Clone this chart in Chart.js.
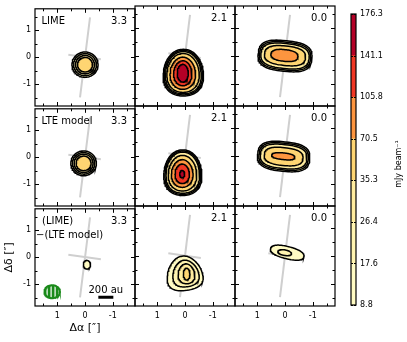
<!DOCTYPE html>
<html>
<head>
<meta charset="utf-8">
<script src="https://cdn.jsdelivr.net/npm/chart.js@4/dist/chart.umd.min.js"></script>
<style>
  body { margin: 0; background: #fff; width: 407px; height: 342px; position: relative; overflow: hidden; }
  canvas { position: absolute; }
</style>
</head>
<body>
<script>
// colour levels (mJy beam^-1) and the band colours between them
const levels = ['8.8', '17.6', '26.4', '35.3', '70.5', '105.8', '141.1', '176.3'];
const bandColors = ['#fffbc3', '#fff4b0', '#ffec9e', '#fed572', '#fd953f', '#f03623', '#b40026'];

const rowNames = [['LIME'], ['LTE model'], ['(LIME)', '\u2212(LTE model)']];
const velocities = ['3.3', '2.1', '0.0'];
const axisTicks = [-1, 0, 1];
const minorTicks = [-1.5, -1, -0.5, 0, 0.5, 1, 1.5];

// disk major / minor axis guide lines
const diskMajor = [{x: -0.18, y: 1.48}, {x: 0.18, y: -1.48}];
const diskMinor = [{x: 0.6, y: 0.1}, {x: -0.57, y: -0.07}];

// contours: [band, cx, cy, rx, ry, rotDeg, power, egg]
const lime33 = [
  [0, 0.0, -0.27, 0.47, 0.47, 0, 2, 0],
  [1, 0.0, -0.27, 0.41, 0.41, 0, 2, 0],
  [2, 0.0, -0.27, 0.34, 0.34, 0, 2, 0],
  [3, 0.0, -0.27, 0.27, 0.27, 0, 2, 0]
];
const lime21 = [
  [0, 0.06, -0.6, 0.72, 0.84, 0, 2.2, 0.12],
  [1, 0.06, -0.6, 0.68, 0.80, 0, 2.2, 0.12],
  [2, 0.06, -0.6, 0.64, 0.76, 0, 2.2, 0.12],
  [3, 0.07, -0.61, 0.58, 0.70, 0, 2.1, 0.1],
  [4, 0.08, -0.62, 0.46, 0.58, 0, 2, 0.08],
  [5, 0.08, -0.62, 0.33, 0.45, 0, 2, 0.05],
  [6, 0.08, -0.62, 0.20, 0.32, 0, 2, 0]
];
const lime00 = [
  [0, 0.0, 0.0, 0.97, 0.55, 6, 2.8, 0],
  [1, 0.0, 0.0, 0.92, 0.50, 6, 2.8, 0],
  [2, 0.0, 0.0, 0.87, 0.45, 6, 2.7, 0],
  [3, 0.0, 0.01, 0.74, 0.35, 6, 2.6, 0],
  [4, 0.02, 0.02, 0.49, 0.21, 6, 2.4, 0]
];
const lte33 = [
  [0, 0.05, -0.22, 0.46, 0.46, 0, 2, 0],
  [1, 0.05, -0.22, 0.40, 0.40, 0, 2, 0],
  [2, 0.05, -0.22, 0.34, 0.34, 0, 2, 0],
  [3, 0.05, -0.22, 0.27, 0.27, 0, 2, 0]
];
const lte21 = [
  [0, 0.08, -0.6, 0.68, 0.82, 0, 2.2, 0.12],
  [1, 0.08, -0.6, 0.64, 0.78, 0, 2.2, 0.12],
  [2, 0.08, -0.6, 0.60, 0.74, 0, 2.2, 0.12],
  [3, 0.09, -0.62, 0.51, 0.64, 0, 2.1, 0.1],
  [4, 0.1, -0.63, 0.39, 0.50, 0, 2, 0.08],
  [5, 0.1, -0.64, 0.26, 0.35, 0, 2, 0.05],
  [6, 0.1, -0.65, 0.09, 0.13, 0, 2, 0]
];
const lte00 = [
  [0, 0.05, -0.02, 0.94, 0.53, 6, 2.8, 0],
  [1, 0.05, -0.02, 0.89, 0.48, 6, 2.8, 0],
  [2, 0.05, -0.02, 0.84, 0.43, 6, 2.7, 0],
  [3, 0.05, -0.02, 0.70, 0.32, 6, 2.6, 0],
  [4, 0.06, -0.01, 0.42, 0.12, 6, 2.4, 0]
];
const diff33 = [
  [0, -0.07, -0.27, 0.13, 0.16, 0, 2, 0]
];
const diff21 = [
  [0, 0.02, -0.62, 0.62, 0.62, -8, 2.3, 0.3],
  [1, -0.02, -0.63, 0.46, 0.48, -8, 2.2, 0.25],
  [2, -0.05, -0.64, 0.30, 0.36, -5, 2, 0.15],
  [3, -0.06, -0.65, 0.12, 0.21, 0, 2, 0]
];
const diff00 = [
  [0, -0.08, 0.12, 0.62, 0.22, 14, 2.3, 0],
  [1, 0.01, 0.12, 0.25, 0.10, 10, 2, 0]
];

// beam [cx, cy, rx, ry] and 200 au scale bar
const beam = [1.18, -1.27, 0.28, 0.24];
const scaleBar = [{x: -0.48, y: -1.48}, {x: -1.02, y: -1.48}];

const panels = [[lime33, lime21, lime00], [lte33, lte21, lte00], [diff33, diff21, diff00]];

const colX = [35, 135, 235];
const rowY = [6, 106, 206];
const SIZE = 100;

Chart.defaults.font.family = '"DejaVu Sans", sans-serif';
Chart.defaults.color = '#000';

function outline(c) {
  const [band, cx, cy, rx, ry, rot, p, egg] = c;
  const a = rot * Math.PI / 180;
  const pts = [];
  for (let i = 0; i <= 96; i++) {
    const t = i / 96 * 2 * Math.PI;
    const co = Math.cos(t), si = Math.sin(t);
    const x = rx * Math.sign(co) * Math.pow(Math.abs(co), 2 / p) * (1 - egg * si);
    const y = ry * Math.sign(si) * Math.pow(Math.abs(si), 2 / p);
    pts.push({x: cx + x * Math.cos(a) - y * Math.sin(a), y: cy + x * Math.sin(a) + y * Math.cos(a)});
  }
  return pts;
}

// hatched pattern for the beam
const pc = document.createElement('canvas');
pc.width = 4; pc.height = 4;
const pctx = pc.getContext('2d');
pctx.fillStyle = '#1a8a1a'; pctx.fillRect(0, 0, 4, 4);
pctx.fillStyle = '#ffffff'; pctx.fillRect(2.5, 0, 1.2, 4);
const hatch = pctx.createPattern(pc, 'repeat');

const panelDeco = {
  id: 'panelDeco',
  afterDatasetsDraw(chart, args, opts) {
    const {ctx, chartArea: a, scales: {x, y}} = chart;
    ctx.save();
    ctx.strokeStyle = '#000';
    ctx.lineWidth = 1;
    ctx.beginPath();
    minorTicks.forEach(v => {
      const len = Number.isInteger(v) ? 4 : 2.5;
      const px = Math.round(x.getPixelForValue(v)) + 0.5;
      const py = Math.round(y.getPixelForValue(v)) + 0.5;
      ctx.moveTo(px, a.top); ctx.lineTo(px, a.top + len);
      ctx.moveTo(px, a.bottom); ctx.lineTo(px, a.bottom - len);
      ctx.moveTo(a.left, py); ctx.lineTo(a.left + len, py);
      ctx.moveTo(a.right, py); ctx.lineTo(a.right - len, py);
    });
    ctx.stroke();
    ctx.lineWidth = 1.2;
    ctx.strokeRect(a.left, a.top, a.width, a.height);

    ctx.font = '10px "DejaVu Sans"';
    ctx.fillStyle = '#000';
    ctx.textAlign = 'right';
    ctx.fillText(opts.vel, a.right - 8, a.top + 15);
    ctx.textAlign = 'left';
    if (opts.name) {
      if (opts.name.length === 1) {
        ctx.fillText(opts.name[0], a.left + 6.5, a.top + 15);
      } else {
        ctx.fillText(opts.name[0], a.left + 7, a.top + 15);
        ctx.fillText(opts.name[1], a.left + 1, a.top + 29);
      }
    }
    if (opts.bar) {
      ctx.textAlign = 'center';
      ctx.fillText('200 au', x.getPixelForValue(-0.75), y.getPixelForValue(scaleBar[0].y) - 4);
    }
    ctx.restore();
  }
};

function lineSet(data, color, width) {
  return {data, showLine: true, borderColor: color, borderWidth: width, pointRadius: 0, fill: false, tension: 0};
}

for (let r = 0; r < 3; r++) {
  for (let c = 0; c < 3; c++) {
    const cv = document.createElement('canvas');
    cv.width = 35 + SIZE + 6;
    cv.height = 6 + SIZE + 36;
    cv.style.left = (colX[c] - 35) + 'px';
    cv.style.top = (rowY[r] - 6) + 'px';
    document.body.appendChild(cv);

    const datasets = [];
    datasets.push(lineSet(diskMajor, '#cfcfcf', 2));
    datasets.push(lineSet(diskMinor, '#cfcfcf', 2));
    panels[r][c].forEach(k => {
      const ds = lineSet(outline(k), '#000', 1.5);
      ds.fill = 'shape';
      ds.backgroundColor = bandColors[k[0]];
      datasets.push(ds);
    });
    const isCorner = r === 2 && c === 0;
    if (isCorner) {
      const ds = lineSet(outline([0, beam[0], beam[1], beam[2], beam[3], 0, 2, 0]), '#1a8a1a', 2);
      ds.fill = 'shape';
      ds.backgroundColor = hatch;
      datasets.push(ds);
      datasets.push(lineSet(scaleBar, '#000', 3));
    }
    datasets.forEach((d, i) => { d.order = -i; });

    new Chart(cv, {
      type: 'scatter',
      data: {datasets},
      options: {
        responsive: false,
        animation: false,
        devicePixelRatio: 1,
        layout: {padding: {top: 6, right: 6, left: 0, bottom: 0}},
        plugins: {
          legend: {display: false},
          tooltip: {enabled: false},
          panelDeco: {vel: velocities[c], name: c === 0 ? rowNames[r] : null, bar: isCorner}
        },
        scales: {
          x: {
            type: 'linear', reverse: true, min: -1.8, max: 1.8,
            grid: {display: false, drawTicks: false}, border: {display: false},
            afterBuildTicks: s => { s.ticks = axisTicks.map(v => ({value: v})); },
            afterFit: s => { s.height = 36; },
            ticks: {display: r === 2, font: {size: 8}, padding: 5, maxRotation: 0, callback: v => String(v)},
            title: {display: isCorner, text: '\u0394\u03b1 [\u2033]', font: {size: 11}, padding: {top: 7, bottom: 7}}
          },
          y: {
            type: 'linear', min: -1.8, max: 1.8,
            grid: {display: false, drawTicks: false}, border: {display: false},
            afterBuildTicks: s => { s.ticks = axisTicks.map(v => ({value: v})); },
            afterFit: s => { s.width = 35; },
            ticks: {display: c === 0, font: {size: 8}, padding: 4, callback: v => String(v)},
            title: {display: isCorner, text: '\u0394\u03b4 [\u2033]', font: {size: 11}, padding: {top: 3, bottom: 3}}
          }
        }
      },
      plugins: [panelDeco]
    });
  }
}

// colour bar
const cbCanvas = document.createElement('canvas');
cbCanvas.width = 62; cbCanvas.height = 342;
cbCanvas.style.left = '345px'; cbCanvas.style.top = '0px';
document.body.appendChild(cbCanvas);

const cbDeco = {
  id: 'cbDeco',
  afterDatasetsDraw(chart) {
    const {ctx, chartArea: a, scales: {y}} = chart;
    ctx.save();
    ctx.strokeStyle = '#000';
    ctx.lineWidth = 1;
    ctx.beginPath();
    levels.forEach((l, i) => {
      const py = Math.round(y.getPixelForValue(i)) + 0.5;
      ctx.moveTo(a.left, py); ctx.lineTo(a.left + 2, py);
      ctx.moveTo(a.right, py); ctx.lineTo(a.right - 2, py);
    });
    ctx.stroke();
    ctx.lineWidth = 1.2;
    ctx.strokeRect(a.left, a.top, a.width, a.height);
    ctx.translate(54, 164);
    ctx.rotate(-Math.PI / 2);
    ctx.font = '8px "DejaVu Sans"';
    ctx.fillStyle = '#000';
    ctx.textAlign = 'center';
    ctx.textBaseline = 'middle';
    ctx.fillText('mJy beam\u207b\u00b9', 0, 0);
    ctx.restore();
  }
};

new Chart(cbCanvas, {
  type: 'bar',
  data: {
    labels: [''],
    datasets: bandColors.map(col => ({data: [1], backgroundColor: col, borderWidth: 0, barPercentage: 1, categoryPercentage: 1}))
  },
  options: {
    responsive: false,
    animation: false,
    devicePixelRatio: 1,
    layout: {padding: {left: 6, top: 14, bottom: 37, right: 0}},
    plugins: {legend: {display: false}, tooltip: {enabled: false}},
    scales: {
      x: {display: false, stacked: true},
      y: {
        stacked: true, position: 'right', min: 0, max: 7,
        grid: {display: false, drawTicks: false}, border: {display: false},
        afterBuildTicks: s => { s.ticks = levels.map((l, i) => ({value: i})); },
        afterFit: s => { s.width = 51; },
        ticks: {font: {size: 8}, padding: 4, callback: v => levels[v]}
      }
    }
  },
  plugins: [cbDeco]
});
</script>
</body>
</html>
